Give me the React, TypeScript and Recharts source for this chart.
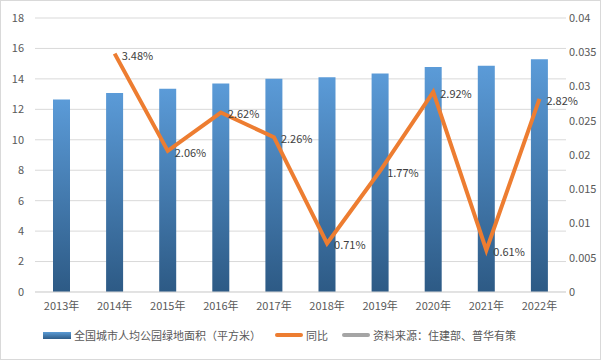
import { ComposedChart, Bar, Line, XAxis, YAxis, CartesianGrid, Legend, LabelList } from "recharts";

const years = ["2013年", "2014年", "2015年", "2016年", "2017年", "2018年", "2019年", "2020年", "2021年", "2022年"];
const parkArea = [12.64, 13.08, 13.35, 13.7, 14.01, 14.11, 14.36, 14.78, 14.87, 15.29];
const yoy = [null, 0.0348, 0.0206, 0.0262, 0.0226, 0.0071, 0.0177, 0.0292, 0.0061, 0.0282];
const leftTicks = [0, 2, 4, 6, 8, 10, 12, 14, 16, 18];
const rightTicks = [0, 0.005, 0.01, 0.015, 0.02, 0.025, 0.03, 0.035, 0.04];
const sourceNote = "资料来源：住建部、普华有策";

const data = years.map((year, i) => ({ year, area: parkArea[i], yoy: yoy[i] }));

const font = "'Noto Sans CJK SC', 'Microsoft YaHei', sans-serif";
const textColor = "#595959";

function LegendContent({ payload }: any) {
  return (
    <div style={{ display: "flex", alignItems: "center", justifyContent: "flex-start", paddingLeft: 42, fontFamily: font, fontSize: 11, color: textColor, height: 20 }}>
      {(payload || []).map((p: any, i: number) => (
        <div key={i} style={{ display: "flex", alignItems: "center", marginRight: 14 }}>
          {p.type === "rect" ? (
            <div style={{ width: 28, height: 7, background: "linear-gradient(#5b9bd5, #2e5c88)", marginRight: 3 }} />
          ) : (
            <div style={{ width: 28, height: 4, borderRadius: 2, background: p.color, marginRight: 3 }} />
          )}
          <span>{p.value}</span>
        </div>
      ))}
    </div>
  );
}

export default function App() {
  return (
    <div style={{ position: "absolute", left: 0, top: 0, width: 601, height: 360, background: "#fff", border: "1px solid #d9d9d9", boxSizing: "border-box" }}>
      <ComposedChart width={599} height={358} data={data} margin={{ top: 17, right: 0, bottom: 14, left: 0 }} style={{ fontFamily: font }}>
        <defs>
          <linearGradient id="barFill" x1="0" y1="0" x2="0" y2="1">
            <stop offset="0%" stopColor="#5b9bd8" />
            <stop offset="100%" stopColor="#2d5a85" />
          </linearGradient>
        </defs>
        <CartesianGrid yAxisId="left" vertical={false} stroke="#d9d9d9" />
        <XAxis dataKey="year" tick={{ fontSize: 11, fill: textColor }} axisLine={{ stroke: "#d9d9d9" }} tickLine={false} tickMargin={4} height={33} />
        <YAxis yAxisId="left" domain={[0, 18]} ticks={leftTicks} tick={{ fontSize: 11, fill: textColor }} axisLine={false} tickLine={false} tickSize={0} tickMargin={11} width={34} interval={0} />
        <YAxis yAxisId="right" orientation="right" domain={[0, 0.04]} ticks={rightTicks} tick={{ fontSize: 11, fill: textColor }} axisLine={false} tickLine={false} tickSize={0} tickMargin={3} width={34} interval={0} />
        <Bar yAxisId="left" dataKey="area" name="全国城市人均公园绿地面积（平方米）" fill="url(#barFill)" barSize={17} isAnimationActive={false} legendType="rect" />
        <Line yAxisId="right" dataKey="yoy" name="同比" stroke="#ed7d31" strokeWidth={4} dot={false} isAnimationActive={false} legendType="line">
          <LabelList dataKey="yoy" position="right" offset={7} dy={2} fontSize={11} fill="#404040" formatter={(v: any) => (v == null ? "" : (v * 100).toFixed(2) + "%")} />
        </Line>
        <Line yAxisId="right" dataKey="source" name={sourceNote} stroke="#a5a5a5" strokeWidth={4} dot={false} isAnimationActive={false} legendType="line" />
        <Legend verticalAlign="bottom" content={<LegendContent />} />
      </ComposedChart>
    </div>
  );
}
